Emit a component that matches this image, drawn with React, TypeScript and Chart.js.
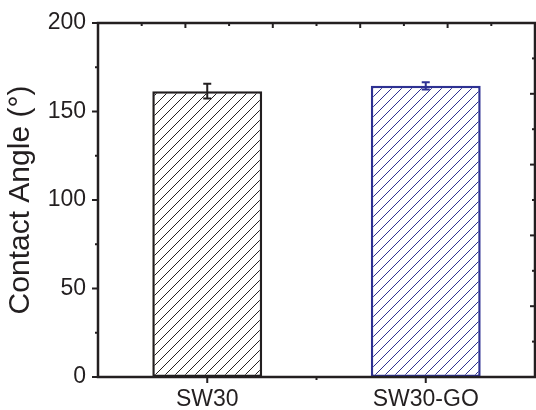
import React, { useEffect, useRef } from "react";
import { Chart, registerables } from "chart.js";

Chart.register(...registerables);

const categories = ["SW30", "SW30-GO"];
const contactAngle = [161.5, 164.5];
const angleError = [4.2, 2.0];
const yTicks = [0, 50, 100, 150, 200];
const yMinorTicks = [25, 75, 125, 175];
const barColors = ["#231f20", "#2e3192"];
const yTitle = "Contact Angle (°)";

const AXIS = "#231f20";
const FONT = "'Liberation Sans', Arial, sans-serif";

function makeHatch(color: string, size: number) {
  const c = document.createElement("canvas");
  c.width = size;
  c.height = size;
  const ctx = c.getContext("2d")!;
  ctx.fillStyle = "#ffffff";
  ctx.fillRect(0, 0, size, size);
  ctx.strokeStyle = color;
  ctx.lineWidth = 1;
  ctx.beginPath();
  ctx.moveTo(0, size);
  ctx.lineTo(size, 0);
  ctx.moveTo(-1, 1);
  ctx.lineTo(1, -1);
  ctx.moveTo(size - 1, size + 1);
  ctx.lineTo(size + 1, size - 1);
  ctx.stroke();
  return ctx.createPattern(c, "repeat");
}

const errorBarPlugin = {
  id: "errorBars",
  afterDatasetsDraw(chart: any) {
    const { ctx, scales } = chart;
    const x = scales.x;
    const y = scales.y;
    ctx.save();
    ctx.lineWidth = 2;
    categories.forEach((_, i) => {
      const px = x.getPixelForValue(i);
      const top = y.getPixelForValue(contactAngle[i] + angleError[i]);
      const bot = y.getPixelForValue(contactAngle[i] - angleError[i]);
      ctx.strokeStyle = barColors[i];
      ctx.beginPath();
      ctx.moveTo(px, top);
      ctx.lineTo(px, bot);
      ctx.moveTo(px - 4, top);
      ctx.lineTo(px + 4, top);
      ctx.moveTo(px - 4, bot);
      ctx.lineTo(px + 4, bot);
      ctx.stroke();
    });
    ctx.restore();
  },
};

const framePlugin = {
  id: "frame",
  afterDraw(chart: any) {
    const { ctx, chartArea: a, scales } = chart;
    const x = scales.x;
    const y = scales.y;
    ctx.save();
    ctx.strokeStyle = AXIS;
    ctx.lineWidth = 2;
    ctx.lineCap = "butt";
    const line = (x1: number, y1: number, x2: number, y2: number) => {
      ctx.beginPath();
      ctx.moveTo(x1, y1);
      ctx.lineTo(x2, y2);
      ctx.stroke();
    };
    // left axis ticks (outward)
    yTicks.forEach((v) => {
      const py = y.getPixelForValue(v);
      line(a.left - 6, py, a.left, py);
    });
    yMinorTicks.forEach((v) => {
      const py = y.getPixelForValue(v);
      line(a.left - 3, py, a.left, py);
    });
    // bottom ticks (outward)
    categories.forEach((_, i) => {
      const px = x.getPixelForValue(i);
      line(px, a.bottom, px, a.bottom + 6);
    });
    const mid = x.getPixelForValue((categories.length - 1) / 2);
    line(mid, a.bottom, mid, a.bottom + 3);
    // top ticks (inward)
    for (let k = 1; k < 10; k++) {
      const px = x.getPixelForValue(-0.5 + 0.2 * k);
      line(px, a.top, px, a.top + (k % 2 === 0 ? 5 : 3));
    }
    // right ticks (inward)
    for (let k = 1; k < 10; k++) {
      const py = y.getPixelForValue(20 * k);
      line(a.right, py, a.right - (k % 2 === 0 ? 5 : 3), py);
    }
    // frame
    ctx.lineWidth = 2.5;
    ctx.strokeRect(a.left, a.top, a.right - a.left, a.bottom - a.top);
    ctx.restore();
  },
};

export default function App() {
  const ref = useRef<HTMLCanvasElement | null>(null);

  useEffect(() => {
    if (!ref.current) return;
    const patterns = barColors.map((c) => makeHatch(c, 10));
    const chart = new Chart(ref.current, {
      type: "bar",
      data: {
        labels: categories,
        datasets: [
          {
            data: contactAngle,
            backgroundColor: patterns as any,
            borderColor: barColors,
            borderWidth: 2.5,
            borderSkipped: false,
            barPercentage: 0.503,
            categoryPercentage: 1,
          },
        ],
      },
      options: {
        responsive: false,
        animation: false,
        layout: { padding: { top: 23, right: 1, left: 0, bottom: 0 } },
        plugins: {
          legend: { display: false },
          tooltip: { enabled: false },
        },
        scales: {
          x: {
            type: "category",
            offset: true,
            grid: { display: false, drawTicks: false },
            border: { display: false },
            ticks: {
              color: AXIS,
              padding: 9,
              font: { family: FONT, size: 23 },
              maxRotation: 0,
            },
            afterFit: (s: any) => {
              s.height = 33;
            },
          },
          y: {
            min: 0,
            max: 200,
            grid: { display: false, drawTicks: false },
            border: { display: false },
            ticks: {
              stepSize: 50,
              color: AXIS,
              padding: 12,
              font: { family: FONT, size: 23, lineHeight: 0.9 },
            },
            title: {
              display: true,
              text: yTitle,
              color: AXIS,
              font: { family: FONT, size: 30, weight: "normal" },
              padding: { top: 3, bottom: 0 },
            },
            afterFit: (s: any) => {
              s.width = 98;
            },
          },
        },
      },
      plugins: [errorBarPlugin, framePlugin],
    });
    return () => chart.destroy();
  }, []);

  return (
    <div style={{ position: "fixed", left: 0, top: 0, width: 536, height: 410, background: "#fff" }}>
      <canvas ref={ref} width={536} height={410} />
    </div>
  );
}
